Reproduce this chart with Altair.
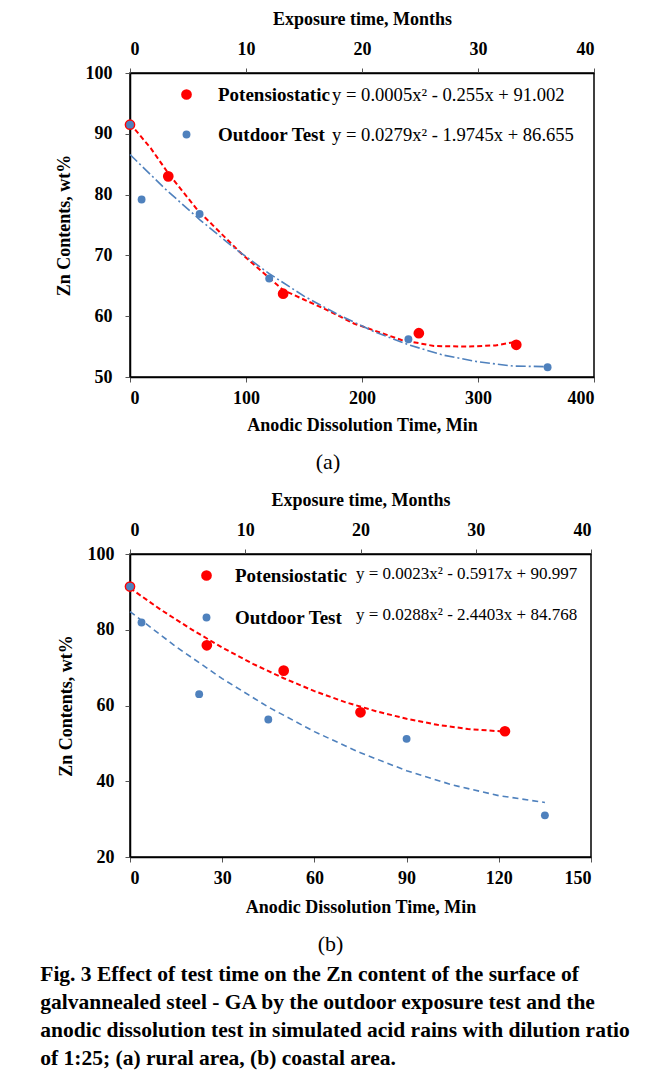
import altair as alt
import pandas as pd

SERIES = ["Potensiostatic", "Outdoor Test"]
COLORS = ["#FF0000", "#4F81BD"]
FONT = "Liberation Serif"

# ---------- panel (a): rural area ----------
a_red_min = [0, 33, 132, 249, 333]
a_red_zn = [91.5, 83.0, 63.7, 57.2, 55.3]
a_blue_month = [0, 1, 6, 12, 24, 36]
a_blue_zn = [91.5, 79.2, 76.8, 66.2, 56.2, 51.6]
a_red_fit_min = [0, 18, 33, 58, 96, 132, 170, 193, 234, 262, 291, 315, 333]
a_red_fit_zn = [91.7, 87.6, 83.5, 77.5, 70.3, 64.3, 61.0, 58.8, 56.1, 55.1, 55.0, 55.2, 55.8]
a_blue_fit_month = [0, 3, 6, 9, 12, 15, 18, 21, 24, 27, 30, 33, 36]
a_blue_fit_zn = [86.6, 81.0, 75.9, 71.2, 67.0, 63.3, 60.2, 57.5, 55.3, 53.6, 52.5, 51.8, 51.7]
a_eqs = ["y = 0.0005x\u00b2 - 0.255x + 91.002", "y = 0.0279x\u00b2 - 1.9745x + 86.655"]

# ---------- panel (b): coastal area ----------
b_red_min = [0, 25, 50, 75, 122]
b_red_zn = [91.4, 75.9, 69.2, 58.2, 53.2]
b_blue_month = [0, 1, 6, 12, 24, 36]
b_blue_zn = [91.4, 81.9, 63.0, 56.3, 51.2, 31.0]
b_red_fit_min = [0, 10, 20, 30, 40, 50, 60, 70, 80, 90, 100, 110, 122]
b_red_fit_zn = [91.0, 85.3, 80.1, 75.3, 71.0, 67.2, 63.8, 60.9, 58.5, 56.5, 54.9, 53.8, 53.1]
b_blue_fit_month = [0, 4, 8, 12, 16, 20, 24, 28, 32, 36]
b_blue_fit_zn = [84.8, 75.5, 67.1, 59.6, 53.1, 47.5, 42.8, 39.0, 36.2, 34.4]
b_eqs = ["y = 0.0023x\u00b2 - 0.5917x + 90.997", "y = 0.0288x\u00b2 - 2.4403x + 84.768"]

month_ticks = [0, 10, 20, 30, 40]

caption = [
    "Fig. 3 Effect of test time on the Zn content of the surface of",
    "galvannealed steel - GA by the outdoor exposure test and the",
    "anodic dissolution test in simulated acid rains with dilution ratio",
    "of 1:25; (a) rural area, (b) coastal area.",
]


def panel(red_x, red_y, blue_x, blue_y, rfx, rfy, bfx, bfy, eqs,
          xmax, xticks, ymin, yticks, w, h, label, label_dx, blue_dash, eq_size,
          leg_x, leg_y, row_pad, lab_off, eq_x, eq_y, ylab_pad, xtitle_pad):
    red = pd.DataFrame({"x": red_x, "zn": red_y, "series": SERIES[0]})
    blue = pd.DataFrame({"x": blue_x, "zn": blue_y, "series": SERIES[1]})
    rfit = pd.DataFrame({"x": rfx, "zn": rfy})
    bfit = pd.DataFrame({"x": bfx, "zn": bfy})

    xb = alt.X("x:Q", scale=alt.Scale(domain=[0, xmax], nice=False),
               axis=alt.Axis(orient="bottom", values=xticks,
                             title="Anodic Dissolution Time, Min",
                             labelPadding=7, titlePadding=xtitle_pad))
    xt = alt.X("x:Q", scale=alt.Scale(domain=[0, 40], nice=False),
               axis=alt.Axis(orient="top", values=month_ticks,
                             title="Exposure time, Months",
                             labelPadding=10, titlePadding=12))
    y = alt.Y("zn:Q", scale=alt.Scale(domain=[ymin, 100], nice=False),
              axis=alt.Axis(values=yticks, title="Zn Contents, wt%",
                            labelPadding=ylab_pad, titlePadding=12))
    leg = alt.Legend(title=None, orient="none", legendX=leg_x, legendY=leg_y,
                     padding=0, rowPadding=row_pad, labelOffset=lab_off,
                     labelFont=FONT, labelFontWeight="bold", labelFontSize=19,
                     labelColor="black", symbolStrokeWidth=0)
    color = alt.Color("series:N", scale=alt.Scale(domain=SERIES, range=COLORS), legend=leg)
    size = alt.Size("series:N", scale=alt.Scale(domain=SERIES, range=[115, 62]), legend=leg)

    red_layer = alt.layer(
        alt.Chart(rfit).mark_line(color=COLORS[0], strokeDash=[5, 3], strokeWidth=2).encode(x=xb, y=y),
        alt.Chart(red).mark_circle(opacity=1).encode(x=xb, y=y, color=color, size=size),
    )
    blue_layer = alt.layer(
        alt.Chart(bfit).mark_line(color=COLORS[1], strokeDash=blue_dash, strokeWidth=1.6).encode(x=xt, y=y),
        alt.Chart(blue).mark_circle(opacity=1).encode(x=xt, y=y, color=color, size=size),
    )
    texts = [
        alt.Chart(pd.DataFrame({"eq": [eqs[i]]})).mark_text(
            font=FONT, fontSize=eq_size, align="left", baseline="middle", color="black"
        ).encode(x=alt.value(eq_x), y=alt.value(eq_y[i]), text="eq:N")
        for i in range(2)
    ]
    return alt.layer(red_layer, blue_layer, *texts).resolve_scale(x="independent").properties(
        width=w, height=h,
        title=alt.TitleParams(label, orient="bottom", font=FONT, fontSize=22,
                              fontWeight="normal", color="black", offset=18,
                              frame="group", anchor="middle", dx=label_dx),
    )


pa = panel(a_red_min, a_red_zn, a_blue_month, a_blue_zn, a_red_fit_min, a_red_fit_zn,
           a_blue_fit_month, a_blue_fit_zn, a_eqs, 400, [0, 100, 200, 300, 400],
           50, [50, 60, 70, 80, 90, 100], 464, 304, "(a)", -34, [10, 3, 2, 3], 18.6,
           47, 12, 20, 22, 202, [22, 62], 13, 9)
pb = panel(b_red_min, b_red_zn, b_blue_month, b_blue_zn, b_red_fit_min, b_red_fit_zn,
           b_blue_fit_month, b_blue_fit_zn, b_eqs, 150, [0, 30, 60, 90, 120, 150],
           20, [20, 40, 60, 80, 100], 461, 303, "(b)", -30, [6, 4], 17,
           67, 12, 22, 19, 226, [20, 61], 11, 11)

chart = alt.vconcat(pa, pb, spacing=16).resolve_scale(
    color="independent", size="independent"
).resolve_legend(color="independent", size="independent").properties(
    title=alt.TitleParams(caption, orient="bottom", anchor="start", frame="bounds",
                          font=FONT, fontSize=21.5, fontWeight="bold", color="black",
                          lineHeight=28, offset=8, dx=-14),
    padding={"left": 32, "top": 1, "right": 5, "bottom": 5},
).configure_axis(
    labelFont=FONT, labelFontSize=18, labelFontWeight="bold", labelColor="black",
    titleFont=FONT, titleFontSize=18, titleFontWeight="bold", titleColor="black",
    grid=False, domainColor="black", domainWidth=1.5, tickColor="#555555", tickSize=5,
).configure_view(stroke="black", strokeWidth=1.5)

chart.save("out.html", embed_options={"renderer": "svg", "actions": False})
